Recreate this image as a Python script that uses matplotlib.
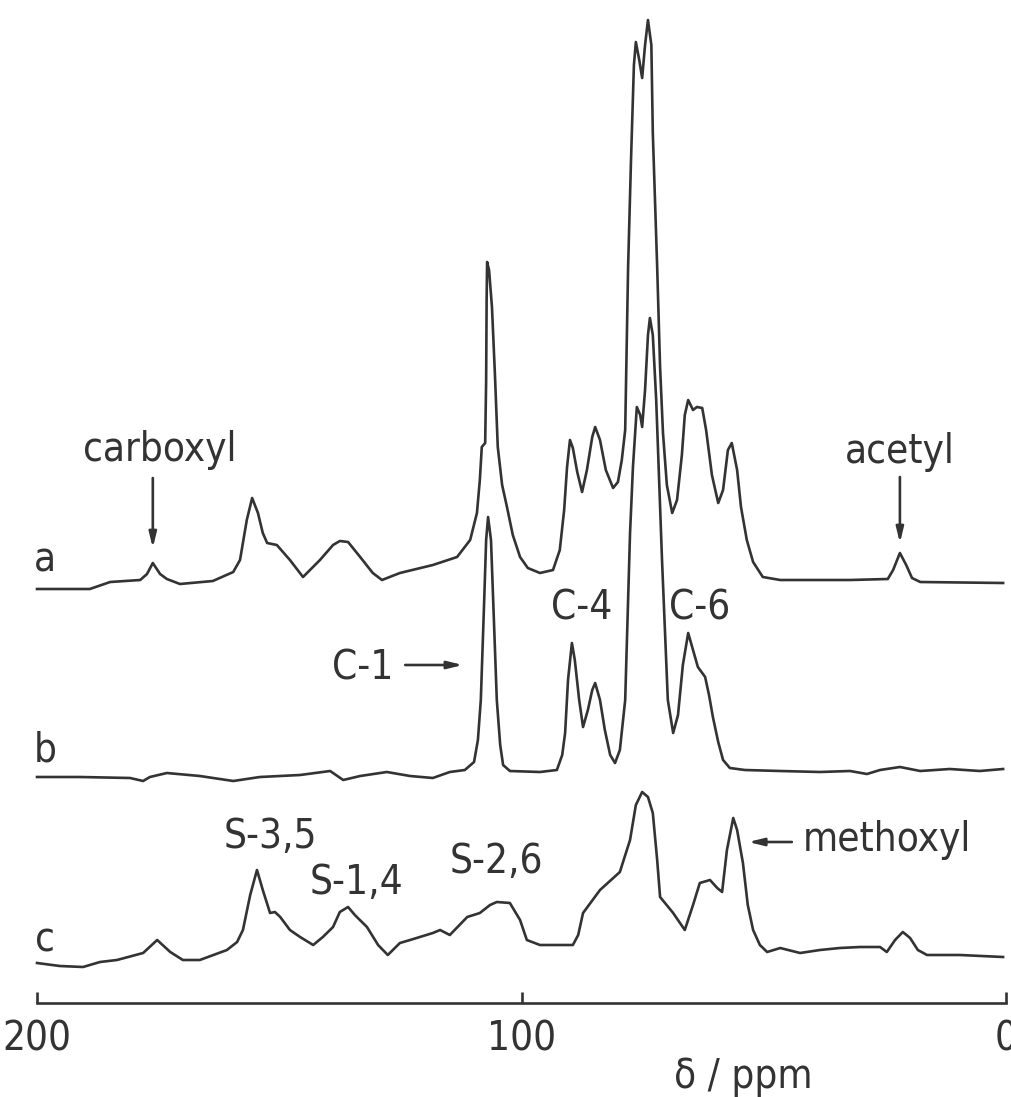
import matplotlib.pyplot as plt

# --- trace a (ppm, intensity) ---
a_ppm = [200.0, 189.1, 184.9, 178.7, 177.3, 176.1, 174.6, 173.2, 170.5, 163.7,
         159.5, 158.1, 156.7, 155.6, 154.4, 153.4, 152.5, 150.5, 147.8, 145.1,
         141.6, 138.9, 137.5, 135.8, 133.3, 130.7, 128.8, 125.1, 118.3, 113.3,
         110.6, 109.2, 108.6, 108.2, 107.5, 107.3, 107.2, 107.1, 106.7, 106.1,
         105.5, 104.9, 104.0, 103.0, 101.8, 100.3, 98.7, 96.2, 93.5, 92.1,
         91.2, 90.6, 90.0, 89.4, 88.5, 87.5, 86.5, 85.4, 84.8, 83.8,
         82.6, 81.1, 80.1, 79.3, 78.6, 78.0, 77.4, 76.8, 76.4, 75.7,
         75.1, 74.5, 73.9, 73.2, 72.9, 72.0, 71.4, 70.8, 70.0, 68.9,
         67.9, 66.9, 66.3, 65.6, 64.6, 63.8, 62.7, 61.9, 60.7, 59.4,
         58.4, 57.4, 56.6, 55.5, 54.7, 53.5, 52.2, 50.2, 46.6, 32.2,
         24.4, 23.3, 21.9, 20.6, 19.4, 17.7, 0.6]
a_int = [-4, -4, 3, 5, 11, 22, 11, 6, 1, 4,
         13, 25, 65, 87, 72, 52, 42, 40, 25, 8,
         25, 40, 44, 43, 28, 12, 5, 12, 20, 28,
         45, 72, 105, 138, 142, 205, 285, 323, 315, 278,
         212, 138, 100, 78, 50, 28, 17, 12, 15, 35,
         75, 118, 145, 137, 113, 93, 115, 148, 158, 145,
         115, 97, 103, 125, 155, 318, 425, 520, 543, 525,
         507, 540, 565, 540, 452, 318, 218, 152, 100, 72,
         85, 130, 170, 185, 175, 178, 177, 155, 110, 82,
         95, 135, 142, 115, 78, 45, 23, 8, 5, 5,
         6, 15, 32, 20, 7, 3, 2]

# --- trace b ---
b_ppm = [200.0, 191.1, 180.8, 178.1, 176.7, 173.2, 166.4, 159.5, 154.0, 145.7,
         139.5, 136.8, 133.3, 127.8, 123.0, 118.3, 114.8, 111.7, 109.8, 109.0,
         108.4, 107.7, 107.3, 106.9, 106.3, 105.7, 105.1, 104.4, 103.8, 102.4,
         96.2, 92.7, 91.6, 91.0, 90.4, 89.6, 89.0, 88.1, 87.3, 86.3,
         85.4, 84.8, 83.8, 82.8, 81.7, 80.7, 79.7, 78.6, 78.0, 77.6,
         77.0, 76.2, 75.5, 75.1, 74.5, 73.9, 73.5, 72.9, 72.2, 71.6,
         71.0, 70.4, 69.8, 68.7, 67.7, 66.7, 65.6, 64.6, 63.6, 62.1,
         61.3, 60.5, 59.4, 58.4, 57.0, 53.9, 46.6, 38.4, 32.2, 28.7,
         26.0, 21.9, 17.7, 11.6, 5.4, 0.6]
b_int = [-5, -5, -6, -9, -5, -1, -4, -9, -5, -3,
         1, -8, -4, 0, -4, -6, 0, 2, 10, 32,
         72, 172, 232, 255, 232, 152, 72, 27, 7, 1,
         0, 2, 17, 39, 92, 129, 112, 72, 45, 62,
         82, 89, 72, 42, 17, 9, 22, 72, 172, 239,
         305, 365, 357, 345, 382, 437, 454, 437, 372, 292,
         212, 142, 72, 39, 57, 107, 139, 122, 105, 95,
         77, 55, 30, 12, 4, 2, 1, 0, 1, -2,
         2, 5, 1, 3, 1, 3]

# --- trace c ---
c_ppm = [200.0, 195.3, 190.5, 187.0, 183.5, 178.1, 175.2, 172.5, 169.9, 166.4,
         160.8, 158.7, 157.5, 156.0, 154.6, 153.4, 151.9, 150.9, 149.8, 147.8,
         145.7, 143.0, 141.0, 138.9, 137.5, 135.8, 134.4, 131.9, 129.6, 127.6,
         125.1, 123.0, 118.3, 116.8, 114.8, 111.2, 108.6, 106.5, 105.1, 102.4,
         100.3, 98.9, 96.2, 89.4, 88.3, 87.3, 83.8, 79.7, 77.6, 76.4,
         75.1, 73.9, 72.9, 72.0, 71.4, 68.7, 66.3, 64.6, 63.2, 61.1,
         59.6, 58.6, 57.6, 56.3, 55.5, 54.3, 53.3, 52.2, 50.8, 49.3,
         46.6, 42.5, 38.4, 34.3, 30.1, 26.0, 24.6, 22.9, 21.3, 19.8,
         18.2, 16.3, 9.5, 0.6]
c_int = [-5, -8, -9, -4, -2, 5, 18, 6, -2, -2,
         8, 16, 28, 63, 88, 68, 45, 46, 41, 28,
         21, 13, 21, 31, 46, 51, 43, 31, 13, 3,
         15, 18, 25, 28, 23, 41, 45, 53, 56, 55,
         38, 18, 13, 13, 23, 45, 68, 86, 118, 153,
         166, 161, 145, 98, 61, 45, 28, 53, 75, 78,
         70, 66, 108, 140, 128, 95, 53, 28, 13, 6,
         10, 5, 8, 10, 11, 11, 6, 18, 26, 20,
         8, 3, 3, 1]

tick_vals = [200, 100, 0]
tick_labels = ['200', '100', '0']

# vertical placement of the stacked traces
off_a, off_b, off_c = 512, 325, 139
ink = '#333333'
fs = 29
txt = dict(family='DejaVu Sans', fontstretch='condensed', fontsize=fs, color=ink,
           ha='center', va='center')

fig = plt.figure(figsize=(10.11, 10.97), dpi=100)
ax = fig.add_axes([0, 0, 1, 1])
ax.set_xlim(207.64, -1.03)
ax.set_ylim(0, 1097)

for ppm, inten, off in [(a_ppm, a_int, off_a), (b_ppm, b_int, off_b), (c_ppm, c_int, off_c)]:
    ax.plot(ppm, [v + off for v in inten], color=ink, lw=1.9, solid_joinstyle='round')

# axis
for s in ['top', 'left', 'right']:
    ax.spines[s].set_visible(False)
ax.spines['bottom'].set_position(('data', 94))
ax.spines['bottom'].set_bounds(200, 0)
ax.spines['bottom'].set_linewidth(1.9)
ax.spines['bottom'].set_color(ink)
ax.set_yticks([])
ax.set_xticks(tick_vals)
ax.set_xticklabels(tick_labels, family='DejaVu Sans', fontstretch='condensed', fontsize=fs, color=ink)
ax.tick_params(axis='x', direction='in', length=8, width=1.9, color=ink, pad=12)
ax.text(54.3, 20, 'δ / ppm', **txt)

# trace letters
for lab, y in [('a', 537), ('b', 347), ('c', 157)]:
    ax.text(198.3, y, lab, **txt)

# labels
ax.text(174.6, 647, 'carboxyl', **txt)
ax.text(21.9, 645, 'acetyl', **txt)
ax.text(132.7, 429, 'C-1', **txt)
ax.text(87.5, 489, 'C-4', **txt)
ax.text(63.2, 489, 'C-6', **txt)
ax.text(151.9, 260, 'S-3,5', **txt)
ax.text(134.0, 214, 'S-1,4', **txt)
ax.text(105.2, 235, 'S-2,6', **txt)
ax.text(24.6, 257, 'methoxyl', **txt)

arrow = dict(arrowstyle='-|>,head_length=0.9,head_width=0.22', color=ink, lw=1.9, shrinkA=0, shrinkB=0)
ax.annotate('', xy=(176.1, 549), xytext=(176.1, 619), arrowprops=arrow)
ax.annotate('', xy=(21.9, 554), xytext=(21.9, 620), arrowprops=arrow)
ax.annotate('', xy=(112.1, 432), xytext=(124.0, 432), arrowprops=arrow)
ax.annotate('', xy=(53.2, 255), xytext=(44.2, 255), arrowprops=arrow)

fig.savefig('out.png', dpi=100)
